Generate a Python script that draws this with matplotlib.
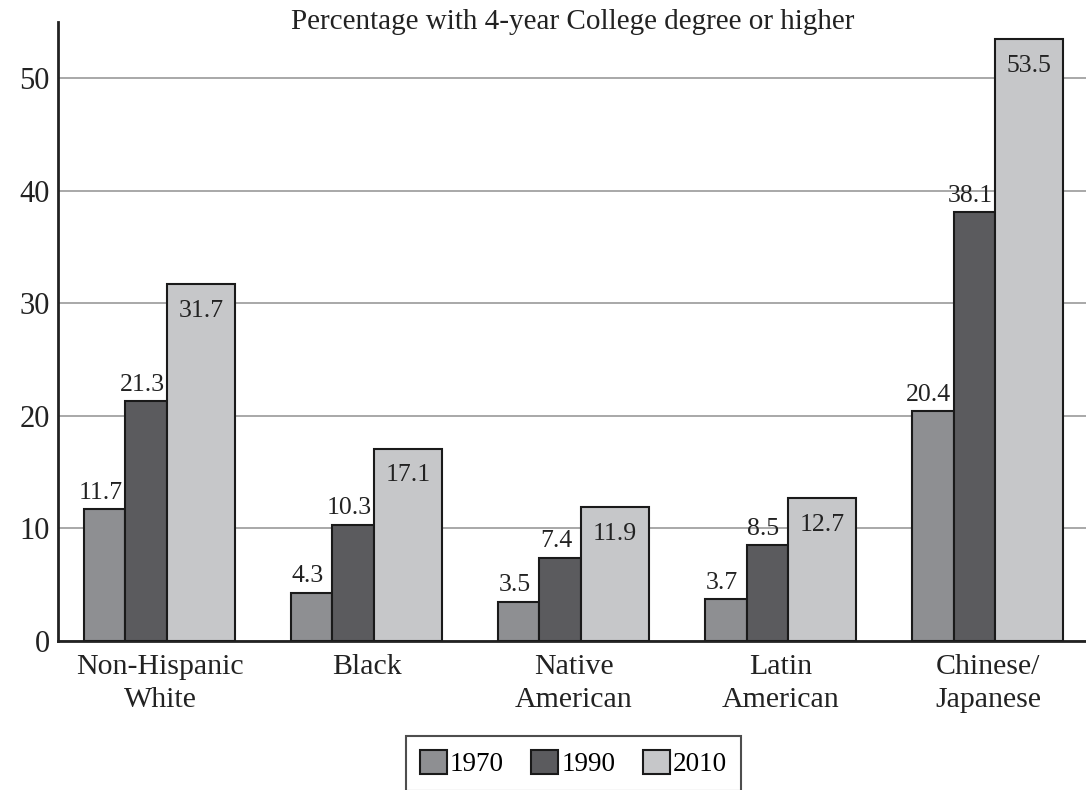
import numpy as np
import matplotlib
matplotlib.use("Agg")
import matplotlib.pyplot as plt

# Share of adults with a 4-year college degree or higher, by group
groups = ["Non-Hispanic\nWhite", "Black", "Native\nAmerican", "Latin\nAmerican", "Chinese/\nJapanese"]
years = ["1970", "1990", "2010"]
pct_1970 = [11.7, 4.3, 3.5, 3.7, 20.4]
pct_1990 = [21.3, 10.3, 7.4, 8.5, 38.1]
pct_2010 = [31.7, 17.1, 11.9, 12.7, 53.5]

colors = ["#8e8f92", "#5b5b5e", "#c6c7c9"]
widths = [0.2, 0.2, 0.33]
offsets = [0.0, 0.2, 0.4]

plt.rcParams["font.family"] = ["Liberation Serif", "DejaVu Serif"]

fig = plt.figure(figsize=(10.86, 7.90), dpi=100)
ax = fig.add_axes([0.0534, 0.1886, 0.9466, 0.7835])

x = np.arange(len(groups))
series = [pct_1970, pct_1990, pct_2010]
for k, vals in enumerate(series):
    ax.bar(x + offsets[k], vals, width=widths[k], align="edge",
           color=colors[k], edgecolor="#1a1a1a", linewidth=1.5,
           label=years[k], zorder=3)

# value labels: above the two earlier bars, inside the top of the 2010 bar
for k, vals in enumerate(series):
    for i, v in enumerate(vals):
        cx = x[i] + offsets[k] + widths[k] / 2
        if k < 2:
            ax.text(cx - 0.02, v + 0.5, f"{v}", ha="center", va="bottom",
                    fontsize=18.5, color="#222222", zorder=2)
        else:
            ax.text(cx, v - 1.4, f"{v}", ha="center", va="top",
                    fontsize=18.5, color="#222222", zorder=4)

ax.set_ylim(0, 55)
ax.set_xlim(-0.126, 4.84)
ax.set_yticks([0, 10, 20, 30, 40, 50])
ax.set_xticks(x + 0.367)
ax.set_xticklabels(groups, fontsize=21.5, linespacing=1.35)
ax.tick_params(axis="y", length=0, labelsize=22, pad=6, colors="#222222")
ax.tick_params(axis="x", length=0, pad=9, colors="#222222")
ax.yaxis.grid(True, color="#9a9a9a", linewidth=1.2, zorder=0)
ax.set_axisbelow(True)

for side in ["top", "right"]:
    ax.spines[side].set_visible(False)
for side in ["left", "bottom"]:
    ax.spines[side].set_linewidth(2)
    ax.spines[side].set_color("#222222")

fig.text(0.527, 0.972, "Percentage with 4-year College degree or higher",
         ha="center", va="center", fontsize=21, color="#222222")

leg = fig.legend(loc="lower center", bbox_to_anchor=(0.528, -0.018), ncol=3,
                 fontsize=19.5, frameon=True, fancybox=False, edgecolor="#222222",
                 handlelength=1.0, handleheight=1.0, handletextpad=0.12,
                 columnspacing=1.0, borderpad=0.5)
leg.get_frame().set_linewidth(1.5)

fig.savefig("out.png", dpi=100)
